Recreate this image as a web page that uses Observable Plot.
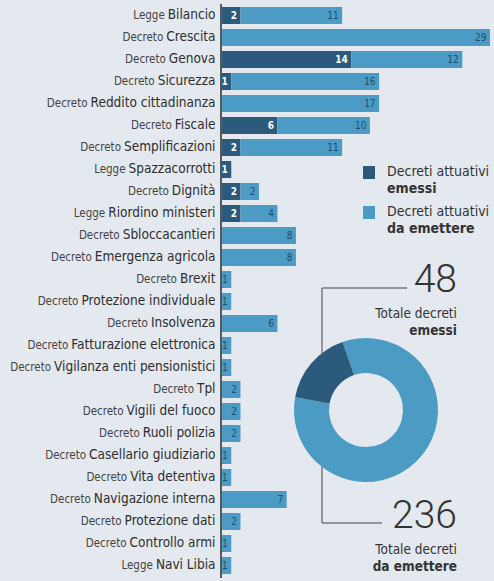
<!DOCTYPE html>
<html><head><meta charset="utf-8">
<script src="https://cdn.jsdelivr.net/npm/d3@7"></script>
<script src="https://cdn.jsdelivr.net/npm/@observablehq/plot@0.6"></script>
<style>
html,body{margin:0;padding:0;background:#e4e8ef;}
#chart{width:494px;height:581px;}
</style></head><body><div id="chart"></div>
<script>
const prefixes = ["Legge","Decreto","Decreto","Decreto","Decreto","Decreto","Decreto","Legge","Decreto","Legge","Decreto","Decreto","Decreto","Decreto","Decreto","Decreto","Decreto","Decreto","Decreto","Decreto","Decreto","Decreto","Decreto","Decreto","Decreto","Legge"];
const names = ["Bilancio","Crescita","Genova","Sicurezza","Reddito cittadinanza","Fiscale","Semplificazioni","Spazzacorrotti","Dignità","Riordino ministeri","Sbloccacantieri","Emergenza agricola","Brexit","Protezione individuale","Insolvenza","Fatturazione elettronica","Vigilanza enti pensionistici","Tpl","Vigili del fuoco","Ruoli polizia","Casellario giudiziario","Vita detentiva","Navigazione interna","Protezione dati","Controllo armi","Navi Libia"];
const emessi = [2,0,14,1,0,6,2,1,2,2,0,0,0,0,0,0,0,0,0,0,0,0,0,0,0,0];
const daEmettere = [11,29,12,16,17,10,11,0,2,4,8,8,1,1,6,1,1,2,2,2,1,1,7,2,1,1];
const seriesKeys = ["emessi","emettere"];
const legendLines = [["Decreti attuativi","emessi"],["Decreti attuativi","da emettere"]];
const totals = [48, 236];
const totalLines = [["Totale decreti","emessi"],["Totale decreti","da emettere"]];
const colors = ["#2b5a7c","#4c9bc4"];

const FONT = '"DejaVu Sans Condensed","Liberation Sans Narrow",sans-serif';
const rows = names.map((n,i)=>({label: prefixes[i]+" "+n, emessi: emessi[i], emettere: daEmettere[i]}));
const long = rows.flatMap(r => [
  {label:r.label, type:"emessi", value:r.emessi},
  {label:r.label, type:"emettere", value:r.emettere}
]);

function extras(index, scales, values, dims) {
  const g = d3.create("svg:g").attr("text-anchor","start");
  // legend
  const lx = 363, ly = [166, 206];
  seriesKeys.forEach((k,i)=>{
    g.append("rect").attr("x",lx).attr("y",ly[i]).attr("width",12).attr("height",13).attr("fill",scales.color(k));
    const t = g.append("text").attr("text-anchor","start").attr("font-family",FONT).attr("font-size",14).attr("fill","#333");
    t.append("tspan").attr("x",lx+24).attr("y",ly[i]+10).text(legendLines[i][0]);
    t.append("tspan").attr("x",lx+24).attr("y",ly[i]+27).attr("font-weight","bold").text(legendLines[i][1]);
  });
  // bracket
  g.append("path").attr("d","M407,288H322V523H382").attr("fill","none").attr("stroke","#444").attr("stroke-width",1);
  // donut
  const cx = 366, cy = 410;
  const pie = d3.pie().sort(null).startAngle(-19*Math.PI/180).endAngle(-19*Math.PI/180 + 2*Math.PI);
  const arcs = pie([totals[1], totals[0]]);
  const arc = d3.arc().innerRadius(37).outerRadius(72);
  const keys = ["emettere","emessi"];
  g.append("g").attr("transform",`translate(${cx},${cy})`)
    .selectAll("path").data(arcs).join("path")
    .attr("d",arc).attr("fill",(d,i)=>scales.color(keys[i]));
  // totals text
  const base = [292, 528];
  totals.forEach((v,i)=>{
    g.append("text").attr("x",457).attr("y",base[i]).attr("text-anchor","end")
      .attr("font-family","Roboto, sans-serif").attr("font-weight",300).attr("font-size",39).attr("fill","#333").text(v);
    const t = g.append("text").attr("text-anchor","end").attr("font-family",FONT).attr("font-size",13.5).attr("fill","#333");
    t.append("tspan").attr("x",457).attr("y",base[i]+26).text(totalLines[i][0]);
    t.append("tspan").attr("x",457).attr("y",base[i]+43).attr("font-weight","bold").text(totalLines[i][1]);
  });
  return g.node();
}

const svg = Plot.plot({
  width: 494, height: 581,
  marginLeft: 222, marginRight: 4, marginTop: 0, marginBottom: 0,
  style: {background:"#e4e8ef", fontFamily: FONT, color:"#333"},
  x: {domain:[0,29], axis:null},
  y: {domain: rows.map(r=>r.label), paddingInner:0.25, paddingOuter:0.25, label:null, tickSize:0, tickPadding:7},
  color: {domain: seriesKeys, range: colors},
  marks: [
    Plot.barX(long, {y:"label", x:"value", fill:"type"}),
    Plot.ruleX([0], {dx:-1.5, stroke:"#2a2a2a", strokeWidth:1.5, insetTop:4, insetBottom:3}),
    Plot.text(rows.filter(r=>r.emessi>0), {y:"label", x:"emessi", text:d=>String(d.emessi), textAnchor:"end", dx:-4, fill:"white", fontSize:10, fontWeight:"bold"}),
    Plot.text(rows.filter(r=>r.emettere>0), {y:"label", x:d=>d.emessi+d.emettere, text:d=>String(d.emettere), textAnchor:"end", dx:-4, fill:"#1f4e6c", fontSize:10}),
    extras
  ]
});

d3.select(svg).selectAll('g[aria-label="y-axis tick label"] text').each(function(){
  const t = this.textContent; const i = t.indexOf(" ");
  const sel = d3.select(this); sel.text(null);
  sel.append("tspan").attr("font-size",11.5).attr("fill","#444").text(t.slice(0,i));
  sel.append("tspan").attr("dx",3).attr("font-size",13.5).attr("fill","#2e2e2e").text(t.slice(i+1));
});
document.getElementById("chart").appendChild(svg);
</script></body></html>
